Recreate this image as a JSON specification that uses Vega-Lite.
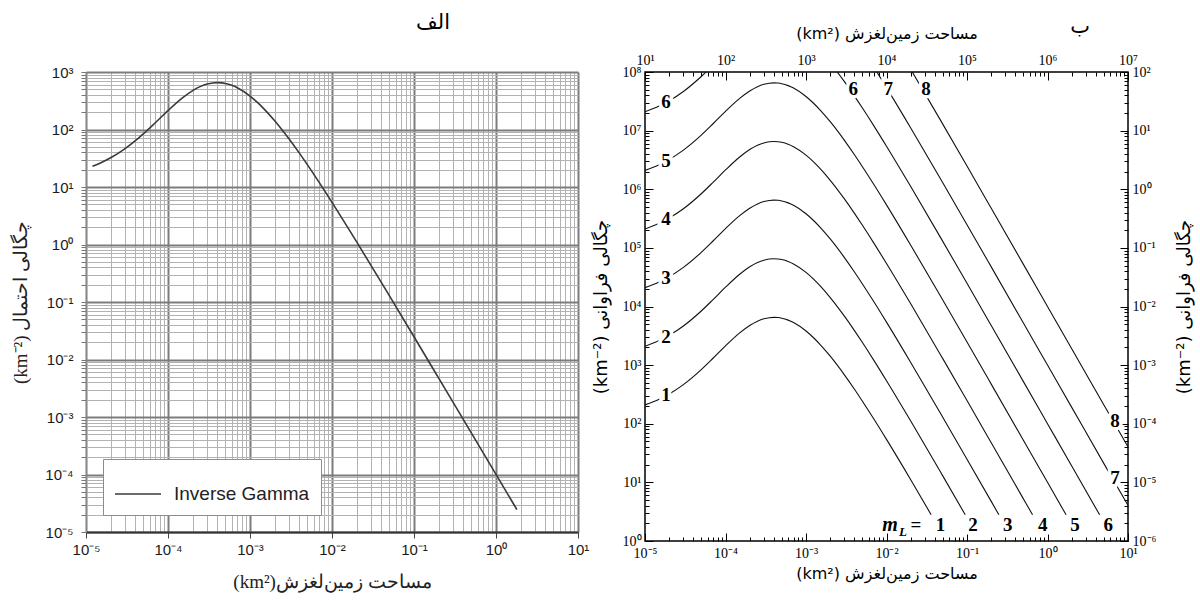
{
  "$schema": "https://vega.github.io/schema/vega-lite/v6.json",
  "background": "white",
  "padding": {"left": 11, "top": 12, "right": 5, "bottom": 5},
  "bounds": "flush",
  "spacing": 67,
  "resolve": {"scale": {"color": "independent"}, "legend": {"color": "independent"}},
  "datasets": {
    "left": [
      {"A":1.2e-5,"p":22.97},{"A":1.5e-5,"p":26.21},{"A":2e-5,"p":32.24},{"A":3e-5,"p":46.54},{"A":5e-5,"p":83.85},{"A":7e-5,"p":131.0},{"A":1e-4,"p":213.2},{"A":1.5e-4,"p":354.9},{"A":2e-4,"p":475.2},{"A":2.5e-4,"p":562.2},{"A":3e-4,"p":616.7},{"A":3.5e-4,"p":644.7},{"A":4e-4,"p":653.1},{"A":4.5e-4,"p":647.3},{"A":5e-4,"p":632.2},{"A":6e-4,"p":585.8},{"A":7e-4,"p":531.6},{"A":1e-3,"p":381.7},{"A":1.25e-3,"p":290.1},{"A":1.5e-3,"p":224.3},{"A":2e-3,"p":142.0},{"A":3e-3,"p":68.33},{"A":4e-3,"p":38.79},{"A":5e-3,"p":24.49},{"A":7e-3,"p":11.93},{"A":1e-2,"p":5.413},{"A":2e-2,"p":1.110},{"A":5e-2,"p":0.1290},{"A":0.1,"p":0.02484},{"A":0.2,"p":0.004742},{"A":0.5,"p":0.0005286},{"A":1,"p":0.0001003},{"A":1.8,"p":0.00002449}
    ],
    "curves": [
      {"A":1e-5,"f":20.96e1,"m":1},{"A":1.5e-5,"f":26.21e1,"m":1},{"A":2e-5,"f":32.24e1,"m":1},{"A":3e-5,"f":46.54e1,"m":1},{"A":5e-5,"f":83.85e1,"m":1},{"A":7e-5,"f":131.0e1,"m":1},{"A":1e-4,"f":213.2e1,"m":1},{"A":1.5e-4,"f":354.9e1,"m":1},{"A":2e-4,"f":475.2e1,"m":1},{"A":2.5e-4,"f":562.2e1,"m":1},{"A":3e-4,"f":616.7e1,"m":1},{"A":3.5e-4,"f":644.7e1,"m":1},{"A":4e-4,"f":653.1e1,"m":1},{"A":4.5e-4,"f":647.3e1,"m":1},{"A":5e-4,"f":632.2e1,"m":1},{"A":6e-4,"f":585.8e1,"m":1},{"A":7e-4,"f":531.6e1,"m":1},{"A":1e-3,"f":381.7e1,"m":1},{"A":1.25e-3,"f":290.1e1,"m":1},{"A":1.5e-3,"f":224.3e1,"m":1},{"A":2e-3,"f":142.0e1,"m":1},{"A":3e-3,"f":68.33e1,"m":1},{"A":4e-3,"f":38.79e1,"m":1},{"A":5e-3,"f":24.49e1,"m":1},{"A":7e-3,"f":11.93e1,"m":1},{"A":1e-2,"f":5.413e1,"m":1},{"A":2e-2,"f":1.110e1,"m":1},{"A":0.0359,"f":2.8,"m":1},

      {"A":1e-5,"f":20.96e2,"m":2},{"A":1.5e-5,"f":26.21e2,"m":2},{"A":2e-5,"f":32.24e2,"m":2},{"A":3e-5,"f":46.54e2,"m":2},{"A":5e-5,"f":83.85e2,"m":2},{"A":7e-5,"f":131.0e2,"m":2},{"A":1e-4,"f":213.2e2,"m":2},{"A":1.5e-4,"f":354.9e2,"m":2},{"A":2e-4,"f":475.2e2,"m":2},{"A":2.5e-4,"f":562.2e2,"m":2},{"A":3e-4,"f":616.7e2,"m":2},{"A":3.5e-4,"f":644.7e2,"m":2},{"A":4e-4,"f":653.1e2,"m":2},{"A":4.5e-4,"f":647.3e2,"m":2},{"A":5e-4,"f":632.2e2,"m":2},{"A":6e-4,"f":585.8e2,"m":2},{"A":7e-4,"f":531.6e2,"m":2},{"A":1e-3,"f":381.7e2,"m":2},{"A":1.25e-3,"f":290.1e2,"m":2},{"A":1.5e-3,"f":224.3e2,"m":2},{"A":2e-3,"f":142.0e2,"m":2},{"A":3e-3,"f":68.33e2,"m":2},{"A":4e-3,"f":38.79e2,"m":2},{"A":5e-3,"f":24.49e2,"m":2},{"A":7e-3,"f":11.93e2,"m":2},{"A":1e-2,"f":5.413e2,"m":2},{"A":2e-2,"f":1.110e2,"m":2},{"A":5e-2,"f":0.1290e2,"m":2},{"A":0.0951,"f":2.8,"m":2},

      {"A":1e-5,"f":20.96e3,"m":3},{"A":1.5e-5,"f":26.21e3,"m":3},{"A":2e-5,"f":32.24e3,"m":3},{"A":3e-5,"f":46.54e3,"m":3},{"A":5e-5,"f":83.85e3,"m":3},{"A":7e-5,"f":131.0e3,"m":3},{"A":1e-4,"f":213.2e3,"m":3},{"A":1.5e-4,"f":354.9e3,"m":3},{"A":2e-4,"f":475.2e3,"m":3},{"A":2.5e-4,"f":562.2e3,"m":3},{"A":3e-4,"f":616.7e3,"m":3},{"A":3.5e-4,"f":644.7e3,"m":3},{"A":4e-4,"f":653.1e3,"m":3},{"A":4.5e-4,"f":647.3e3,"m":3},{"A":5e-4,"f":632.2e3,"m":3},{"A":6e-4,"f":585.8e3,"m":3},{"A":7e-4,"f":531.6e3,"m":3},{"A":1e-3,"f":381.7e3,"m":3},{"A":1.25e-3,"f":290.1e3,"m":3},{"A":1.5e-3,"f":224.3e3,"m":3},{"A":2e-3,"f":142.0e3,"m":3},{"A":3e-3,"f":68.33e3,"m":3},{"A":4e-3,"f":38.79e3,"m":3},{"A":5e-3,"f":24.49e3,"m":3},{"A":7e-3,"f":11.93e3,"m":3},{"A":1e-2,"f":5.413e3,"m":3},{"A":2e-2,"f":1.110e3,"m":3},{"A":5e-2,"f":0.1290e3,"m":3},{"A":0.1,"f":0.02484e3,"m":3},{"A":0.2,"f":0.004742e3,"m":3},{"A":0.249,"f":2.8,"m":3},

      {"A":1e-5,"f":20.96e4,"m":4},{"A":1.5e-5,"f":26.21e4,"m":4},{"A":2e-5,"f":32.24e4,"m":4},{"A":3e-5,"f":46.54e4,"m":4},{"A":5e-5,"f":83.85e4,"m":4},{"A":7e-5,"f":131.0e4,"m":4},{"A":1e-4,"f":213.2e4,"m":4},{"A":1.5e-4,"f":354.9e4,"m":4},{"A":2e-4,"f":475.2e4,"m":4},{"A":2.5e-4,"f":562.2e4,"m":4},{"A":3e-4,"f":616.7e4,"m":4},{"A":3.5e-4,"f":644.7e4,"m":4},{"A":4e-4,"f":653.1e4,"m":4},{"A":4.5e-4,"f":647.3e4,"m":4},{"A":5e-4,"f":632.2e4,"m":4},{"A":6e-4,"f":585.8e4,"m":4},{"A":7e-4,"f":531.6e4,"m":4},{"A":1e-3,"f":381.7e4,"m":4},{"A":1.25e-3,"f":290.1e4,"m":4},{"A":1.5e-3,"f":224.3e4,"m":4},{"A":2e-3,"f":142.0e4,"m":4},{"A":3e-3,"f":68.33e4,"m":4},{"A":4e-3,"f":38.79e4,"m":4},{"A":5e-3,"f":24.49e4,"m":4},{"A":7e-3,"f":11.93e4,"m":4},{"A":1e-2,"f":5.413e4,"m":4},{"A":2e-2,"f":1.110e4,"m":4},{"A":5e-2,"f":0.1290e4,"m":4},{"A":0.1,"f":0.02484e4,"m":4},{"A":0.2,"f":0.004742e4,"m":4},{"A":0.5,"f":0.0005286e4,"m":4},{"A":0.652,"f":2.8,"m":4},

      {"A":1e-5,"f":20.96e5,"m":5},{"A":1.5e-5,"f":26.21e5,"m":5},{"A":2e-5,"f":32.24e5,"m":5},{"A":3e-5,"f":46.54e5,"m":5},{"A":5e-5,"f":83.85e5,"m":5},{"A":7e-5,"f":131.0e5,"m":5},{"A":1e-4,"f":213.2e5,"m":5},{"A":1.5e-4,"f":354.9e5,"m":5},{"A":2e-4,"f":475.2e5,"m":5},{"A":2.5e-4,"f":562.2e5,"m":5},{"A":3e-4,"f":616.7e5,"m":5},{"A":3.5e-4,"f":644.7e5,"m":5},{"A":4e-4,"f":653.1e5,"m":5},{"A":4.5e-4,"f":647.3e5,"m":5},{"A":5e-4,"f":632.2e5,"m":5},{"A":6e-4,"f":585.8e5,"m":5},{"A":7e-4,"f":531.6e5,"m":5},{"A":1e-3,"f":381.7e5,"m":5},{"A":1.25e-3,"f":290.1e5,"m":5},{"A":1.5e-3,"f":224.3e5,"m":5},{"A":2e-3,"f":142.0e5,"m":5},{"A":3e-3,"f":68.33e5,"m":5},{"A":4e-3,"f":38.79e5,"m":5},{"A":5e-3,"f":24.49e5,"m":5},{"A":7e-3,"f":11.93e5,"m":5},{"A":1e-2,"f":5.413e5,"m":5},{"A":2e-2,"f":1.110e5,"m":5},{"A":5e-2,"f":0.1290e5,"m":5},{"A":0.1,"f":0.02484e5,"m":5},{"A":0.2,"f":0.004742e5,"m":5},{"A":0.5,"f":0.0005286e5,"m":5},{"A":1,"f":0.0001003e5,"m":5},{"A":1.70,"f":2.8,"m":5},

      {"A":1e-5,"f":20.96e6,"m":6},{"A":1.5e-5,"f":26.21e6,"m":6},{"A":2e-5,"f":32.24e6,"m":6},{"A":3e-5,"f":46.54e6,"m":6},{"A":5e-5,"f":83.85e6,"m":6},{"A":7e-5,"f":131.0e6,"m":6},{"A":1e-4,"f":213.2e6,"m":6},{"A":1.5e-4,"f":354.9e6,"m":6},{"A":2e-4,"f":475.2e6,"m":6},{"A":2.5e-4,"f":562.2e6,"m":6},{"A":3e-4,"f":616.7e6,"m":6},{"A":3.5e-4,"f":644.7e6,"m":6},{"A":4e-4,"f":653.1e6,"m":6},{"A":4.5e-4,"f":647.3e6,"m":6},{"A":5e-4,"f":632.2e6,"m":6},{"A":6e-4,"f":585.8e6,"m":6},{"A":7e-4,"f":531.6e6,"m":6},{"A":1e-3,"f":381.7e6,"m":6},{"A":1.25e-3,"f":290.1e6,"m":6},{"A":1.5e-3,"f":224.3e6,"m":6},{"A":2e-3,"f":142.0e6,"m":6},{"A":3e-3,"f":68.33e6,"m":6},{"A":4e-3,"f":38.79e6,"m":6},{"A":5e-3,"f":24.49e6,"m":6},{"A":7e-3,"f":11.93e6,"m":6},{"A":1e-2,"f":5.413e6,"m":6},{"A":2e-2,"f":1.110e6,"m":6},{"A":5e-2,"f":0.1290e6,"m":6},{"A":0.1,"f":0.02484e6,"m":6},{"A":0.2,"f":0.004742e6,"m":6},{"A":0.5,"f":0.0005286e6,"m":6},{"A":1,"f":0.0001003e6,"m":6},{"A":2,"f":0.00001903e6,"m":6},{"A":4.44,"f":2.8,"m":6},

      {"A":5e-3,"f":24.49e7,"m":7},{"A":7e-3,"f":11.93e7,"m":7},{"A":1e-2,"f":5.413e7,"m":7},{"A":2e-2,"f":1.110e7,"m":7},{"A":5e-2,"f":0.1290e7,"m":7},{"A":0.1,"f":0.02484e7,"m":7},{"A":0.2,"f":0.004742e7,"m":7},{"A":0.5,"f":0.0005286e7,"m":7},{"A":1,"f":0.0001003e7,"m":7},{"A":2,"f":0.00001903e7,"m":7},{"A":5,"f":0.000002110e7,"m":7},{"A":10,"f":0.000000405e7,"m":7},

      {"A":1e-2,"f":5.413e8,"m":8},{"A":2e-2,"f":1.110e8,"m":8},{"A":5e-2,"f":0.1290e8,"m":8},{"A":0.1,"f":0.02484e8,"m":8},{"A":0.2,"f":0.004742e8,"m":8},{"A":0.5,"f":0.0005286e8,"m":8},{"A":1,"f":0.0001003e8,"m":8},{"A":2,"f":0.00001903e8,"m":8},{"A":5,"f":0.000002110e8,"m":8},{"A":10,"f":0.000000405e8,"m":8}
    ],
    "labels": [
      {"A":1.824e-5,"f":305,"t":"1"},{"A":1.824e-5,"f":3050,"t":"2"},{"A":1.824e-5,"f":30500,"t":"3"},{"A":1.824e-5,"f":305000,"t":"4"},{"A":1.824e-5,"f":3050000,"t":"5"},{"A":1.824e-5,"f":30500000,"t":"6"},
      {"A":3.87e-3,"f":5.05e7,"t":"6"},{"A":0.01053,"f":5.05e7,"t":"7"},{"A":0.03095,"f":5.05e7,"t":"8"},
      {"A":6.89,"f":111.7,"t":"8"},{"A":6.89,"f":11.9,"t":"7"},
      {"A":0.02325,"f":1.88,"t":"="},{"A":0.0469,"f":1.88,"t":"1"},{"A":0.1187,"f":1.88,"t":"2"},{"A":0.3204,"f":1.88,"t":"3"},{"A":0.872,"f":1.88,"t":"4"},{"A":2.196,"f":1.88,"t":"5"},{"A":5.69,"f":1.88,"t":"6"}
    ],
    "ml": [
      {"A":0.01105,"f":1.88,"t":"m"},{"A":0.01603,"f":1.43,"t":"L"}
    ]
  },
  "hconcat": [
    {
      "width": 492,
      "height": 460,
      "view": {"stroke": null},
      "title": {"text": "الف", "frame": "group", "anchor": "middle", "dx": 101, "offset": 32, "fontSize": 21, "font": "DejaVu Sans", "fontWeight": "normal", "color": "black"},
      "data": {"name": "left"},
      "mark": {"type": "line", "interpolate": "monotone", "strokeWidth": 1.6},
      "encoding": {
        "x": {
          "field": "A", "type": "quantitative",
          "scale": {"type": "log", "domain": [1e-5, 10], "nice": false},
          "axis": {
            "orient": "bottom",
            "values": [1e-5,2e-5,3e-5,4e-5,5e-5,6e-5,7e-5,8e-5,9e-5,1e-4,2e-4,3e-4,4e-4,5e-4,6e-4,7e-4,8e-4,9e-4,1e-3,2e-3,3e-3,4e-3,5e-3,6e-3,7e-3,8e-3,9e-3,0.01,0.02,0.03,0.04,0.05,0.06,0.07,0.08,0.09,0.1,0.2,0.3,0.4,0.5,0.6,0.7,0.8,0.9,1,2,3,4,5,6,7,8,9,10],
            "grid": true,
            "gridColor": {"condition": {"test": "abs(log(datum.value)/LN10-round(log(datum.value)/LN10))<0.001", "value": "#7c7c7c"}, "value": "#b2b2b2"},
            "gridWidth": {"condition": {"test": "abs(log(datum.value)/LN10-round(log(datum.value)/LN10))<0.001", "value": 2}, "value": 1},
            "tickSize": 6, "tickColor": "#444",
            "tickOpacity": {"condition": {"test": "abs(log(datum.value)/LN10-round(log(datum.value)/LN10))<0.001", "value": 1}, "value": 0},
            "domainColor": "#333", "domainWidth": 2,
            "labelExpr": "abs(log(datum.value)/LN10-round(log(datum.value)/LN10))<0.001 ? '10'+(round(log(datum.value)/LN10)<0?'⁻':'')+['⁰','¹','²','³','⁴','⁵','⁶','⁷','⁸','⁹'][abs(round(log(datum.value)/LN10))] : ''",
            "labelFont": "Liberation Sans", "labelFontSize": 15, "labelColor": "#1a1a1a", "labelPadding": 4, "labelOverlap": false, "labelFlush": false, "labelBound": false,
            "title": "(km²)مساحت زمین‌لغزش", "titleFont": "Liberation Serif", "titleFontSize": 19, "titleFontWeight": "normal", "titleColor": "#222", "titlePadding": 15
          }
        },
        "y": {
          "field": "p", "type": "quantitative",
          "scale": {"type": "log", "domain": [1e-5, 1000], "nice": false},
          "axis": {
            "orient": "left",
            "values": [1e-5,2e-5,3e-5,4e-5,5e-5,6e-5,7e-5,8e-5,9e-5,1e-4,2e-4,3e-4,4e-4,5e-4,6e-4,7e-4,8e-4,9e-4,1e-3,2e-3,3e-3,4e-3,5e-3,6e-3,7e-3,8e-3,9e-3,0.01,0.02,0.03,0.04,0.05,0.06,0.07,0.08,0.09,0.1,0.2,0.3,0.4,0.5,0.6,0.7,0.8,0.9,1,2,3,4,5,6,7,8,9,10,20,30,40,50,60,70,80,90,100,200,300,400,500,600,700,800,900,1000],
            "grid": true,
            "gridColor": {"condition": {"test": "abs(log(datum.value)/LN10-round(log(datum.value)/LN10))<0.001", "value": "#7c7c7c"}, "value": "#b2b2b2"},
            "gridWidth": {"condition": {"test": "abs(log(datum.value)/LN10-round(log(datum.value)/LN10))<0.001", "value": 2}, "value": 1},
            "tickSize": 5, "tickColor": "#777",
            "domainColor": "#888", "domainWidth": 1,
            "labelExpr": "abs(log(datum.value)/LN10-round(log(datum.value)/LN10))<0.001 ? '10'+(round(log(datum.value)/LN10)<0?'⁻':'')+['⁰','¹','²','³','⁴','⁵','⁶','⁷','⁸','⁹'][abs(round(log(datum.value)/LN10))] : ''",
            "labelFont": "Liberation Sans", "labelFontSize": 15, "labelColor": "#1a1a1a", "labelPadding": 8, "labelOverlap": false, "labelFlush": false, "labelBound": false,
            "title": "(km⁻²) چگالی احتمال", "titleFont": "Liberation Serif", "titleFontSize": 19, "titleFontWeight": "normal", "titleColor": "#222", "titlePadding": 14
          }
        },
        "color": {
          "datum": "Inverse Gamma", "type": "nominal",
          "scale": {"range": ["#3a3a3a"]},
          "legend": {"title": null, "orient": "bottom-left", "offset": 17, "fillColor": "white", "strokeColor": "#8c8c8c", "padding": 11, "labelFont": "Liberation Sans", "labelFontSize": 19, "labelColor": "#222", "symbolType": "stroke", "symbolSize": 2116, "symbolStrokeWidth": 1.5, "labelOffset": 12, "cornerRadius": 0}
        }
      }
    },
    {
      "width": 483,
      "height": 469,
      "view": {"stroke": "black", "strokeWidth": 1.5},
      "title": {"text": "ب", "frame": "group", "anchor": "end", "dx": -38, "offset": -12, "fontSize": 21, "font": "DejaVu Sans", "fontWeight": "normal", "color": "black"},
      "resolve": {"axis": {"x": "independent", "y": "independent"}},
      "layer": [
        {
          "data": {"name": "curves"},
          "mark": {"type": "line", "interpolate": "monotone", "clip": true, "strokeWidth": 1.1, "color": "#111"},
          "encoding": {
            "x": {"field": "A", "type": "quantitative", "scale": {"type": "log", "domain": [1e-5, 10], "nice": false},
              "axis": {"orient": "bottom", "values": [1e-5,1e-4,1e-3,0.01,0.1,1,10], "offset": -8, "tickSize": 8, "tickColor": "black", "domain": false, "grid": false,
                "labelExpr": "'10'+(round(log(datum.value)/LN10)<0?'⁻':'')+['⁰','¹','²','³','⁴','⁵','⁶','⁷','⁸','⁹'][abs(round(log(datum.value)/LN10))]",
                "labelFont": "Liberation Serif", "labelFontSize": 14, "labelColor": "black", "labelPadding": 5, "labelFlush": false, "labelOverlap": false, "labelBound": false,
                "title": "(km²) مساحت زمین‌لغزش", "titleFont": "DejaVu Sans", "titleFontSize": 16, "titleFontWeight": "normal", "titleColor": "black", "titlePadding": 5}},
            "y": {"field": "f", "type": "quantitative", "scale": {"type": "log", "domain": [1, 1e8], "nice": false},
              "axis": {"orient": "left", "values": [1,10,100,1000,1e4,1e5,1e6,1e7,1e8], "offset": -8, "tickSize": 8, "tickColor": "black", "domain": false, "grid": false,
                "labelExpr": "'10'+(round(log(datum.value)/LN10)<0?'⁻':'')+['⁰','¹','²','³','⁴','⁵','⁶','⁷','⁸','⁹'][abs(round(log(datum.value)/LN10))]",
                "labelFont": "Liberation Serif", "labelFontSize": 14, "labelColor": "black", "labelPadding": 4, "labelFlush": false, "labelOverlap": false, "labelBound": false,
                "title": "(km⁻²) چگالی فراوانی", "titleFont": "DejaVu Sans", "titleFontSize": 18, "titleFontWeight": "normal", "titleColor": "black", "titlePadding": 12}},
            "detail": {"field": "m", "type": "nominal"}
          }
        },
        {
          "data": {"name": "labels"},
          "mark": {"type": "text", "font": "Liberation Serif", "fontWeight": "bold", "fontSize": 19, "align": "center", "baseline": "middle", "fill": "white", "stroke": "white", "strokeWidth": 7},
          "encoding": {
            "x": {"field": "A", "type": "quantitative", "scale": {"type": "log", "domain": [1e-5, 10], "nice": false},
              "axis": {"orient": "top", "values": [1e-5,1e-4,1e-3,0.01,0.1,1,10], "offset": -8, "tickSize": 8, "tickColor": "black", "domain": false, "grid": false,
                "labelExpr": "'10'+['⁰','¹','²','³','⁴','⁵','⁶','⁷','⁸','⁹'][round(log(datum.value)/LN10)+6]",
                "labelFont": "Liberation Serif", "labelFontSize": 14, "labelColor": "black", "labelPadding": 5, "labelFlush": false, "labelOverlap": false, "labelBound": false,
                "title": "(km²) مساحت زمین‌لغزش", "titleFont": "DejaVu Sans", "titleFontSize": 16, "titleFontWeight": "normal", "titleColor": "black", "titlePadding": 12}},
            "y": {"field": "f", "type": "quantitative", "scale": {"type": "log", "domain": [1, 1e8], "nice": false},
              "axis": {"orient": "right", "values": [1,10,100,1000,1e4,1e5,1e6,1e7,1e8], "offset": -8, "tickSize": 8, "tickColor": "black", "domain": false, "grid": false,
                "labelExpr": "'10'+(round(log(datum.value)/LN10)-6<0?'⁻':'')+['⁰','¹','²','³','⁴','⁵','⁶','⁷','⁸','⁹'][abs(round(log(datum.value)/LN10)-6)]",
                "labelFont": "Liberation Serif", "labelFontSize": 14, "labelColor": "black", "labelPadding": 4, "labelFlush": false, "labelOverlap": false, "labelBound": false,
                "title": "(km⁻²) چگالی فراوانی", "titleFont": "DejaVu Sans", "titleFontSize": 18, "titleFontWeight": "normal", "titleColor": "black", "titlePadding": 38, "titleAngle": -90}},
            "text": {"field": "t", "type": "nominal"}
          }
        },
        {
          "data": {"name": "labels"},
          "mark": {"type": "text", "font": "Liberation Serif", "fontWeight": "bold", "fontSize": 19, "align": "center", "baseline": "middle", "color": "black"},
          "encoding": {
            "x": {"field": "A", "type": "quantitative", "scale": {"type": "log", "domain": [1e-5, 10], "nice": false},
              "axis": {"orient": "bottom", "values": [2e-5,3e-5,4e-5,5e-5,6e-5,7e-5,8e-5,9e-5,2e-4,3e-4,4e-4,5e-4,6e-4,7e-4,8e-4,9e-4,2e-3,3e-3,4e-3,5e-3,6e-3,7e-3,8e-3,9e-3,0.02,0.03,0.04,0.05,0.06,0.07,0.08,0.09,0.2,0.3,0.4,0.5,0.6,0.7,0.8,0.9,2,3,4,5,6,7,8,9], "offset": -4, "tickSize": 4, "tickColor": "black", "domain": false, "grid": false, "labels": false, "title": null}},
            "y": {"field": "f", "type": "quantitative", "scale": {"type": "log", "domain": [1, 1e8], "nice": false},
              "axis": {"orient": "left", "values": [2,3,4,5,6,7,8,9,20,30,40,50,60,70,80,90,200,300,400,500,600,700,800,900,2000,3000,4000,5000,6000,7000,8000,9000,2e4,3e4,4e4,5e4,6e4,7e4,8e4,9e4,2e5,3e5,4e5,5e5,6e5,7e5,8e5,9e5,2e6,3e6,4e6,5e6,6e6,7e6,8e6,9e6,2e7,3e7,4e7,5e7,6e7,7e7,8e7,9e7], "offset": -4, "tickSize": 4, "tickColor": "black", "domain": false, "grid": false, "labels": false, "title": null}},
            "text": {"field": "t", "type": "nominal"}
          }
        },
        {
          "data": {"name": "ml"},
          "transform": [{"filter": "datum.t === 'm'"}],
          "mark": {"type": "text", "font": "Liberation Serif", "fontWeight": "bold", "fontStyle": "italic", "fontSize": 20, "align": "center", "baseline": "middle", "color": "black"},
          "encoding": {
            "x": {"field": "A", "type": "quantitative", "scale": {"type": "log", "domain": [1e-5, 10], "nice": false},
              "axis": {"orient": "top", "values": [2e-5,3e-5,4e-5,5e-5,6e-5,7e-5,8e-5,9e-5,2e-4,3e-4,4e-4,5e-4,6e-4,7e-4,8e-4,9e-4,2e-3,3e-3,4e-3,5e-3,6e-3,7e-3,8e-3,9e-3,0.02,0.03,0.04,0.05,0.06,0.07,0.08,0.09,0.2,0.3,0.4,0.5,0.6,0.7,0.8,0.9,2,3,4,5,6,7,8,9], "offset": -4, "tickSize": 4, "tickColor": "black", "domain": false, "grid": false, "labels": false, "title": null}},
            "y": {"field": "f", "type": "quantitative", "scale": {"type": "log", "domain": [1, 1e8], "nice": false},
              "axis": {"orient": "right", "values": [2,3,4,5,6,7,8,9,20,30,40,50,60,70,80,90,200,300,400,500,600,700,800,900,2000,3000,4000,5000,6000,7000,8000,9000,2e4,3e4,4e4,5e4,6e4,7e4,8e4,9e4,2e5,3e5,4e5,5e5,6e5,7e5,8e5,9e5,2e6,3e6,4e6,5e6,6e6,7e6,8e6,9e6,2e7,3e7,4e7,5e7,6e7,7e7,8e7,9e7], "offset": -4, "tickSize": 4, "tickColor": "black", "domain": false, "grid": false, "labels": false, "title": null}},
            "text": {"field": "t", "type": "nominal"}
          }
        },
        {
          "data": {"name": "ml"},
          "transform": [{"filter": "datum.t === 'L'"}],
          "mark": {"type": "text", "font": "Liberation Serif", "fontWeight": "bold", "fontStyle": "italic", "fontSize": 13, "align": "center", "baseline": "middle", "color": "black"},
          "encoding": {
            "x": {"field": "A", "type": "quantitative", "scale": {"type": "log", "domain": [1e-5, 10], "nice": false}, "axis": null},
            "y": {"field": "f", "type": "quantitative", "scale": {"type": "log", "domain": [1, 1e8], "nice": false}, "axis": null},
            "text": {"field": "t", "type": "nominal"}
          }
        }
      ]
    }
  ]
}
